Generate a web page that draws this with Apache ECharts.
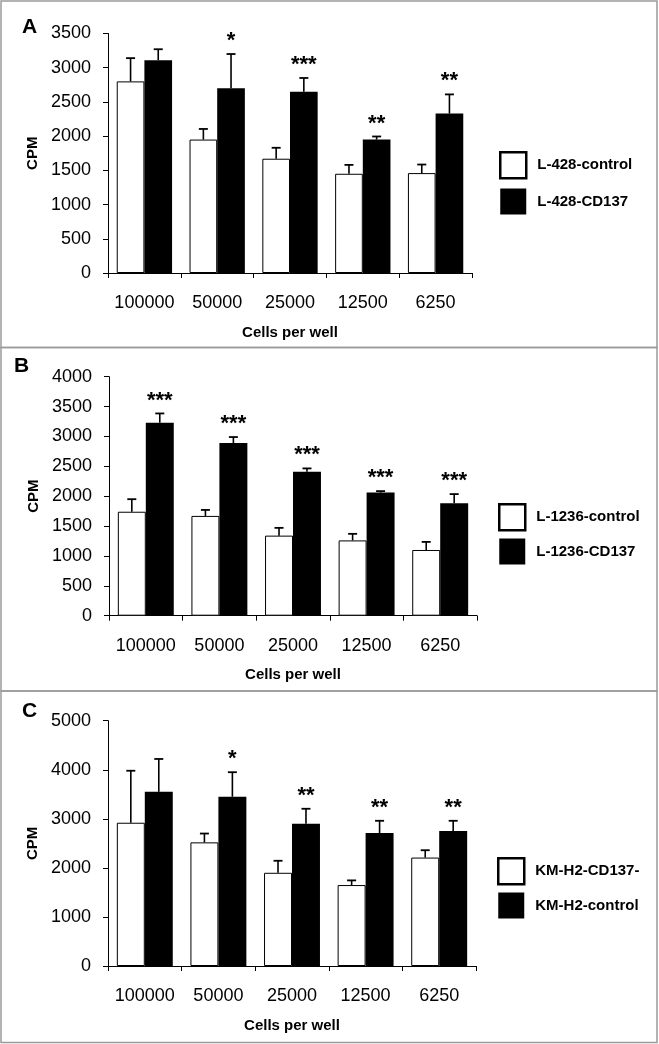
<!DOCTYPE html>
<html><head><meta charset="utf-8">
<script src="https://cdn.jsdelivr.net/npm/echarts@6/dist/echarts.min.js"></script>
<style>html,body{margin:0;padding:0;background:#fff}#c{width:659px;height:1044px}</style>
</head><body><div id="c"></div>
<script>
const categories = ['100000', '50000', '25000', '12500', '6250'];

const aControlName = 'L-428-control';
const aCD137Name = 'L-428-CD137';
const aControl = [2800, 1950, 1670, 1450, 1460];
const aControlErr = [340, 155, 160, 130, 125];
const aCD137 = [3110, 2700, 2650, 1950, 2330];
const aCD137Err = [160, 500, 200, 45, 280];
const aStars = ['', '*', '***', '**', '**'];
const aAxis = {max: 3500, interval: 500};

const bControlName = 'L-1236-control';
const bCD137Name = 'L-1236-CD137';
const bControl = [1740, 1670, 1340, 1260, 1100];
const bControlErr = [210, 100, 130, 110, 135];
const bCD137 = [3230, 2890, 2410, 2060, 1880];
const bCD137Err = [155, 100, 55, 25, 155];
const bStars = ['***', '***', '***', '***', '***'];
const bAxis = {max: 4000, interval: 500};

const cWhiteName = 'KM-H2-CD137-';
const cBlackName = 'KM-H2-control';
const cWhite = [2920, 2520, 1900, 1650, 2210];
const cWhiteErr = [1060, 180, 245, 95, 150];
const cBlack = [3550, 3450, 2900, 2710, 2750];
const cBlackErr = [670, 500, 305, 250, 210];
const cStars = ['', '*', '**', '**', '**'];
const cAxis = {max: 5000, interval: 1000};

const FONT = 'Liberation Sans, Arial, sans-serif';
const GAP = 0.24;

const panels = [
  {letter: 'A', grid: {left: 108, top: 33.5, width: 364, height: 239.5},
   white: aControlName, black: aCD137Name, wv: aControl, we: aControlErr, bv: aCD137, be: aCD137Err, stars: aStars, axis: aAxis,
   legend: {left: 499, top: 151, itemGap: 9}, letterPos: [22, 17]},
  {letter: 'B', grid: {left: 109, top: 376.7, width: 368, height: 239},
   white: bControlName, black: bCD137Name, wv: bControl, we: bControlErr, bv: bCD137, be: bCD137Err, stars: bStars, axis: bAxis,
   legend: {left: 498, top: 503, itemGap: 7}, letterPos: [14, 356]},
  {letter: 'C', grid: {left: 108, top: 720.7, width: 368, height: 245.3},
   white: cWhiteName, black: cBlackName, wv: cWhite, we: cWhiteErr, bv: cBlack, be: cBlackErr, stars: cStars, axis: cAxis,
   legend: {left: 497, top: 857, itemGap: 7}, letterPos: [22, 701]}
];

const grid = [], xAxis = [], yAxis = [], series = [], legend = [], graphic = [];

function errSeries(i, values, errs, side, stars) {
  return {
    type: 'custom', xAxisIndex: i, yAxisIndex: i, z: 5, silent: true,
    data: values.map((v, k) => [k, v, errs[k]]),
    encode: {x: 0, y: 1},
    renderItem: function (params, api) {
      const c = api.value(0), v = api.value(1), e = api.value(2);
      const base = api.coord([c, v]);
      const top = api.coord([c, v + e]);
      const band = api.size([1, 0])[0];
      const barW = band * (1 - GAP) / 2;
      const x = base[0] + side * barW / 2;
      const children = [
        {type: 'line', shape: {x1: x, y1: base[1], x2: x, y2: top[1]}, style: {stroke: '#000', lineWidth: 1.6}},
        {type: 'line', shape: {x1: x - 4.5, y1: top[1], x2: x + 4.5, y2: top[1]}, style: {stroke: '#000', lineWidth: 1.8}}
      ];
      const s = stars ? stars[params.dataIndex] : '';
      if (s) {
        children.push({type: 'text', style: {x: x, y: top[1] - 2, text: s, fill: '#000',
          font: 'bold 22px ' + FONT, textAlign: 'center', textVerticalAlign: 'bottom'}});
      }
      return {type: 'group', children: children};
    }
  };
}

panels.forEach((p, i) => {
  grid.push(Object.assign({containLabel: false}, p.grid));
  xAxis.push({
    type: 'category', gridIndex: i, data: categories,
    name: 'Cells per well', nameLocation: 'middle', nameGap: 52,
    nameTextStyle: {fontFamily: FONT, fontWeight: 'bold', fontSize: 15, color: '#000'},
    axisLine: {lineStyle: {color: '#000', width: 1}},
    axisTick: {show: true, length: 5, lineStyle: {color: '#000'}},
    axisLabel: {fontFamily: FONT, fontSize: 18, color: '#000', margin: 21, interval: 0, hideOverlap: false},
    splitLine: {show: false}
  });
  yAxis.push({
    type: 'value', gridIndex: i, min: 0, max: p.axis.max, interval: p.axis.interval,
    name: 'CPM', nameLocation: 'middle', nameGap: 55, nameRotate: 90,
    nameTextStyle: {fontFamily: FONT, fontWeight: 'bold', fontSize: 15, color: '#000'},
    axisLine: {show: true, lineStyle: {color: '#000', width: 1}},
    axisTick: {show: true, length: 5, lineStyle: {color: '#000'}},
    axisLabel: {fontFamily: FONT, fontSize: 18, color: '#000', margin: 17, formatter: v => String(v)},
    splitLine: {show: false}
  });
  series.push({
    type: 'bar', name: p.white, xAxisIndex: i, yAxisIndex: i, data: p.wv,
    barGap: '0%', barCategoryGap: (GAP * 100) + '%',
    itemStyle: {color: '#fff', borderColor: '#000', borderWidth: 1}, silent: true
  });
  series.push({
    type: 'bar', name: p.black, xAxisIndex: i, yAxisIndex: i, data: p.bv,
    barGap: '0%', barCategoryGap: (GAP * 100) + '%',
    itemStyle: {color: '#000', borderColor: '#000', borderWidth: 0}, silent: true
  });
  series.push(errSeries(i, p.wv, p.we, -1, null));
  series.push(errSeries(i, p.bv, p.be, 1, p.stars));
  legend.push({
    orient: 'vertical', left: p.legend.left, top: p.legend.top, padding: 0,
    itemGap: p.legend.itemGap, itemWidth: 26, itemHeight: 26, icon: 'rect',
    selectedMode: false,
    textStyle: {fontFamily: FONT, fontWeight: 'bold', fontSize: 15, color: '#000', padding: [0, 0, 0, 6]},
    data: [
      {name: p.white, itemStyle: {color: '#fff', borderColor: '#000', borderWidth: 2.5}},
      {name: p.black, itemStyle: {color: '#000', borderColor: '#000', borderWidth: 0}}
    ]
  });
  graphic.push({type: 'text', left: p.letterPos[0], top: p.letterPos[1],
    style: {text: p.letter, font: 'bold 21px ' + FONT, fill: '#000'}});
});

// panel frames
graphic.push({type: 'rect', shape: {x: 1, y: 1, width: 656, height: 346.5}, style: {fill: 'none', stroke: '#9a9a9a', lineWidth: 1.5}, silent: true});
graphic.push({type: 'rect', shape: {x: 1, y: 347.5, width: 656, height: 343.5}, style: {fill: 'none', stroke: '#9a9a9a', lineWidth: 1.5}, silent: true});
graphic.push({type: 'rect', shape: {x: 1, y: 691, width: 656, height: 351.5}, style: {fill: 'none', stroke: '#9a9a9a', lineWidth: 1.5}, silent: true});

const chart = echarts.init(document.getElementById('c'), null, {renderer: 'canvas'});
chart.setOption({
  animation: false,
  backgroundColor: '#fff',
  grid: grid, xAxis: xAxis, yAxis: yAxis, series: series, legend: legend, graphic: graphic
});
</script></body></html>
